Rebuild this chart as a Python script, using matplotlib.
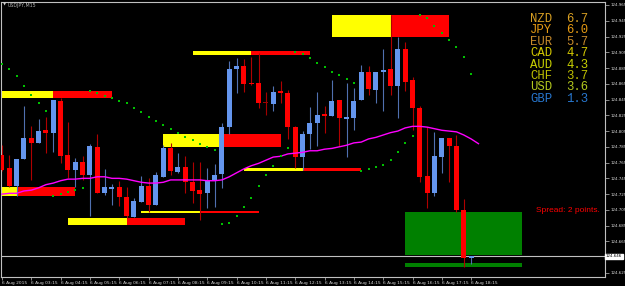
import matplotlib
matplotlib.use('Agg')
import matplotlib.pyplot as plt
import matplotlib.transforms as mtrans
from matplotlib.patches import Rectangle
import numpy as np

# USDJPY,M15 - 6 Aug 2015
opens = [124.775, 124.758, 124.735, 124.770, 124.796, 124.790, 124.806, 124.803, 124.843, 124.775,
         124.756, 124.766, 124.749, 124.785, 124.726, 124.731, 124.734, 124.721, 124.696, 124.715,
         124.735, 124.711, 124.747, 124.783, 124.753, 124.759, 124.740, 124.730, 124.726, 124.743,
         124.751, 124.810, 124.884, 124.888, 124.866, 124.866, 124.841, 124.839, 124.856, 124.853,
         124.810, 124.772, 124.801, 124.815, 124.827, 124.824, 124.844, 124.820, 124.822, 124.844,
         124.880, 124.857, 124.880, 124.884, 124.862, 124.909, 124.870, 124.834, 124.748, 124.726,
         124.772, 124.796, 124.786, 124.705, 124.644]
highs = [124.787, 124.775, 124.770, 124.837, 124.811, 124.820, 124.823, 124.844, 124.847, 124.817,
         124.771, 124.773, 124.789, 124.801, 124.757, 124.738, 124.742, 124.734, 124.720, 124.748,
         124.745, 124.753, 124.787, 124.790, 124.777, 124.773, 124.766, 124.766, 124.758, 124.763,
         124.815, 124.894, 124.898, 124.896, 124.899, 124.904, 124.855, 124.862, 124.869, 124.857,
         124.811, 124.805, 124.836, 124.855, 124.837, 124.870, 124.844, 124.866, 124.860, 124.889,
         124.888, 124.880, 124.909, 124.952, 124.924, 124.918, 124.874, 124.837, 124.810, 124.804,
         124.796, 124.796, 124.800, 124.719, 124.646]
lows = [124.754, 124.734, 124.723, 124.770, 124.743, 124.790, 124.777, 124.778, 124.764, 124.745,
        124.734, 124.743, 124.697, 124.726, 124.724, 124.711, 124.710, 124.695, 124.696, 124.715,
        124.702, 124.711, 124.747, 124.749, 124.752, 124.726, 124.714, 124.692, 124.707, 124.709,
        124.733, 124.801, 124.853, 124.855, 124.863, 124.834, 124.825, 124.830, 124.841, 124.795,
        124.758, 124.756, 124.782, 124.786, 124.803, 124.824, 124.786, 124.772, 124.806, 124.844,
        124.851, 124.841, 124.830, 124.851, 124.822, 124.856, 124.806, 124.740, 124.707, 124.723,
        124.752, 124.740, 124.702, 124.633, 124.636]
closes = [124.756, 124.735, 124.770, 124.796, 124.790, 124.805, 124.803, 124.844, 124.773, 124.756,
          124.766, 124.749, 124.786, 124.726, 124.734, 124.734, 124.721, 124.697, 124.716, 124.735,
          124.711, 124.749, 124.783, 124.754, 124.759, 124.740, 124.729, 124.725, 124.742, 124.749,
          124.810, 124.884, 124.888, 124.865, 124.865, 124.841, 124.840, 124.855, 124.853, 124.810,
          124.772, 124.801, 124.815, 124.825, 124.824, 124.843, 124.822, 124.823, 124.843, 124.880,
          124.858, 124.880, 124.882, 124.862, 124.909, 124.867, 124.834, 124.747, 124.726, 124.773,
          124.796, 124.786, 124.705, 124.644, 124.646]

# moving average (one bar beyond the last candle)
ma = [124.725, 124.726, 124.726, 124.729, 124.730, 124.733, 124.737, 124.739, 124.742, 124.744,
      124.744, 124.745, 124.745, 124.747, 124.747, 124.745, 124.745, 124.744, 124.742, 124.740,
      124.739, 124.739, 124.740, 124.743, 124.743, 124.743, 124.743, 124.743, 124.742, 124.742,
      124.743, 124.747, 124.752, 124.757, 124.761, 124.764, 124.768, 124.772, 124.773, 124.776,
      124.777, 124.778, 124.780, 124.780, 124.782, 124.783, 124.785, 124.787, 124.790, 124.791,
      124.795, 124.797, 124.800, 124.803, 124.805, 124.809, 124.811, 124.811, 124.810, 124.808,
      124.806, 124.805, 124.804, 124.800, 124.795, 124.789]

# parabolic SAR
sar = [124.890, 124.884, 124.875, 124.862, 124.851, 124.841, 124.830, 124.723, 124.725, 124.728,
       124.730, 124.733, 124.856, 124.853, 124.849, 124.847, 124.843, 124.841, 124.834, 124.829,
       124.823, 124.818, 124.813, 124.808, 124.803, 124.797, 124.794, 124.789, 124.785, 124.781,
       124.687, 124.688, 124.697, 124.709, 124.720, 124.735, 124.749, 124.761, 124.773, 124.783,
       124.905, 124.903, 124.898, 124.891, 124.886, 124.880, 124.876, 124.871, 124.866, 124.754,
       124.757, 124.759, 124.762, 124.768, 124.778, 124.790, 124.799, 124.952, 124.948, 124.938,
       124.929, 124.921, 124.912, 124.899, 124.877]

# supply/demand zones: yellow part start->split, red part split->end (bar index)
zone_start = [-1, -6, 9, 19, 22, 26, 33, 45]
zone_split = [7, 2, 17, 27, 30, 34, 41, 53]
zone_end = [15, 10, 25, 35, 38, 42, 49, 61]
zone_top = [124.856, 124.734, 124.695, 124.704, 124.801, 124.907, 124.758, 124.952]
zone_bot = [124.847, 124.723, 124.686, 124.701, 124.785, 124.902, 124.754, 124.924]

green_start, green_end = 55, 71
green_box = (124.702, 124.648)
green_line = (124.638, 124.633)

bid = 124.646

time_ticks = list(range(0, 65, 4))
time_labels = ['6 Aug 2015'] + ['6 Aug %02d:15' % h for h in range(3, 19)]

cur_names = ['NZD', 'JPY', 'EUR', 'CAD', 'AUD', 'CHF', 'USD', 'GBP']
cur_values = [6.7, 6.0, 5.7, 4.7, 4.3, 3.7, 3.6, 1.3]
cur_colors = ['#d9a023', '#e69a12', '#c78a2b', '#d4c800', '#c8d000', '#bfc000', '#b4c81e', '#2878d0']

spread_text = 'Spread: 2 points.'

# ---------------------------------------------------------------
fig = plt.figure(figsize=(6.25, 2.86), dpi=100, facecolor='black')
ax = fig.add_axes([1 / 625, 9 / 286, 604 / 625, 275 / 286], facecolor='black')

for s, m, e, t, b in zip(zone_start, zone_split, zone_end, zone_top, zone_bot):
    ax.add_patch(Rectangle((s, b), m - s, t - b, facecolor='#ffff00', edgecolor='none', zorder=1))
    ax.add_patch(Rectangle((m, b), e - m, t - b, facecolor='#ff0000', edgecolor='none', zorder=1))

ax.add_patch(Rectangle((green_start, green_box[1]), green_end - green_start,
                       green_box[0] - green_box[1], facecolor='#008000', edgecolor='none', zorder=1))
ax.add_patch(Rectangle((green_start, green_line[1]), green_end - green_start,
                       green_line[0] - green_line[1], facecolor='#008000', edgecolor='none', zorder=1))

ax.axhline(bid, color='#c0c0c0', lw=0.8, zorder=2)

w = 0.68
for i, (o, h, l, c) in enumerate(zip(opens, highs, lows, closes)):
    doji = abs(c - o) <= 0.001
    if doji:
        wick, body = '#a00000', '#a00000'
    elif c > o:
        wick, body = '#5070b0', '#6495ed'
    else:
        wick, body = '#b00000', '#ff0000'
    ax.vlines(i, l, h, color=wick, lw=0.8, zorder=3)
    lo, hi = min(o, c), max(o, c)
    hgt = max(hi - lo, 0.0013)
    ax.add_patch(Rectangle((i - w / 2, lo), w, hgt, facecolor=body,
                           edgecolor='none', zorder=4))

ax.plot(range(len(ma)), ma, color='#ff00ff', lw=1.0, zorder=5)
ax.plot(range(len(sar)), sar, ls='none', marker='s', ms=1.5, color='#00c000', mew=0, zorder=6)

ax.set_xlim(-0.136, 82.26)
ax.set_ylim(124.6198, 124.9688)

for sp in ax.spines.values():
    sp.set_color('#c0c0c0')
    sp.set_linewidth(0.8)

ax.yaxis.tick_right()
yt = np.arange(124.625, 124.966, 0.02)
ax.set_yticks(yt)
# the 124.645 label sits under the bid price box
ax.set_yticklabels(['' if abs(v - bid) < 0.005 else '%.3f' % v for v in yt])
ax.tick_params(axis='y', colors='#c0c0c0', labelcolor='#d8d8d8', labelsize=2.9,
               length=3, width=0.5, pad=0.8)
ax.set_xticks(time_ticks)
ax.set_xticklabels(time_labels)
ax.tick_params(axis='x', colors='#c0c0c0', labelcolor='#d8d8d8', labelsize=3.2,
               length=2, width=0.5, pad=1)
for lbl in ax.get_xticklabels():
    lbl.set_ha('left')

trans = mtrans.blended_transform_factory(ax.transAxes, ax.transData)
ax.text(1.0015, bid, '%.3f' % bid, transform=trans, fontsize=2.9, color='black',
        va='center', ha='left', zorder=10, clip_on=False,
        bbox=dict(facecolor='white', edgecolor='white', pad=0.5))

fig.text(3 / 625, 1 - 5 / 286, '\u25bc', color='#d0d0d0', fontsize=3, va='center')
fig.text(8 / 625, 1 - 5 / 286, 'USDJPY,M15', color='#b0b0b0', fontsize=3.4, va='center')

for k, (n, v, col) in enumerate(zip(cur_names, cur_values, cur_colors)):
    yy = 1 - (19 + 11.4 * k) / 286
    fig.text(530 / 625, yy, n, color=col, family='Liberation Mono', fontsize=8.8, va='center')
    fig.text(566 / 625, yy, '%.1f' % v, color=col, family='Liberation Mono', fontsize=8.8,
             va='center')

fig.text(600 / 625, 1 - 211 / 286, spread_text, color='#ff0000', fontsize=6,
         family='Liberation Sans', ha='right', va='center')

fig.savefig('out.png', dpi=100, facecolor='black')
